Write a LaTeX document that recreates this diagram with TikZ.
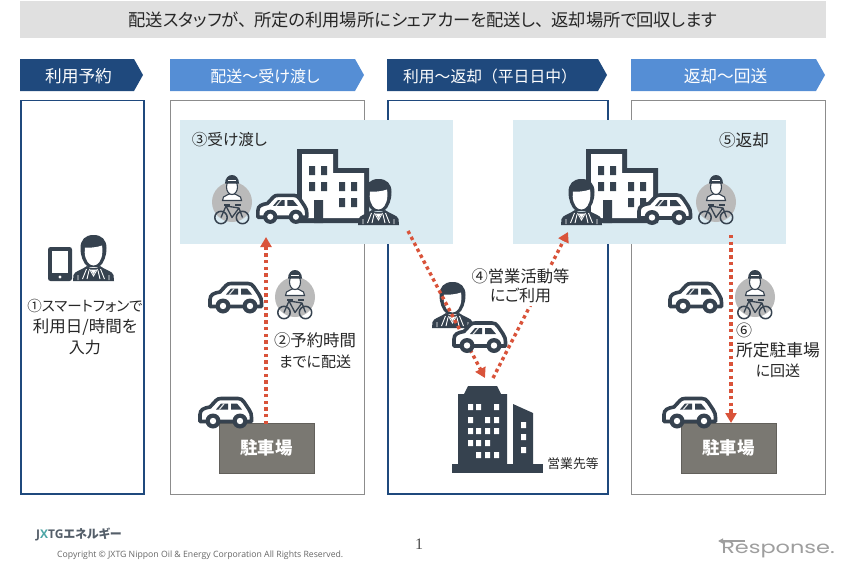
\documentclass[tikz,border=0pt]{standalone}
\usepackage{fontspec}
\setmainfont{Noto Sans CJK JP}[RawFeature=+palt]
\newfontfamily\fullf{Noto Sans CJK JP}
\newfontfamily\latinf{Open Sans}
\newfontfamily\pagef{Liberation Serif}
\newfontfamily\logof{Poppins}
\usetikzlibrary{arrows.meta,shapes.arrows}
\definecolor{navy}{HTML}{1F497D}
\definecolor{sky}{HTML}{558ED5}
\definecolor{band}{HTML}{DAEBF2}
\definecolor{ink}{HTML}{36424F}
\definecolor{redd}{HTML}{D9533A}
\definecolor{lot}{HTML}{7A7872}
\definecolor{txtc}{HTML}{262626}
\newcommand{\fsz}[1]{\fontsize{#1}{21.5}\selectfont}
\tikzset{
  txt/.style={inner sep=0pt,text=txtc,align=center},
  hdr/.style={inner sep=0pt,text=white},
  navypanel/.style={draw=navy,line width=1.8pt,fill=white},
  graypanel/.style={draw=black!45,line width=.9pt,fill=white},
  flow/.style={draw=redd,line width=3.4pt,dash pattern=on 3.4pt off 3.3pt,-{Triangle[length=10pt,width=11pt,fill=redd]}},
  lotbox/.style={draw=lot!80!black,fill=lot,line width=.8pt,minimum width=95pt,minimum height=50pt,inner sep=0pt,text=white,font=\fontsize{17.4}{20}\selectfont\bfseries},
  carpic/.pic={
    \draw[ink,fill=white,line width=3.6pt,line join=round]
      (2,25) -- (2,18) .. controls (2,13) and (6,11.5) .. (12,10.5)
      -- (18,4) .. controls (19.5,2.4) and (21,2) .. (23,2) -- (40,2)
      .. controls (43,2) and (44,3) .. (46,5.5) -- (51,13)
      .. controls (53,16) and (53.5,18) .. (53.5,21) -- (53.5,25) -- cycle;
    \fill[ink] (18,13) -- (23,7) -- (30,7) -- (30,13) -- cycle;
    \fill[ink] (33,7) -- (39,7) -- (44,13) -- (33,13) -- cycle;
    \fill[white!85!ink] (20.5,13) -- (25.5,7) -- (27,7) -- (22,13) -- cycle;
    \fill[ink] (15,24.5) circle (7.5) (42,24.5) circle (7.5);
    \fill[white] (15,24.5) circle (3.2) (42,24.5) circle (3.2);
  },
  person/.pic={
    \fill[ink] (20.5,0) .. controls (29,0) and (33.5,5) .. (33.5,13)
      .. controls (33.5,21) and (31,28) .. (26,32) -- (15,32)
      .. controls (10,28) and (7.5,21) .. (7.5,13) .. controls (7.5,5) and (12,0) .. (20.5,0) -- cycle;
    \fill[white] (12,12.5) .. controls (16,13) and (24,12.5) .. (29,10.5)
      .. controls (29.5,13) and (29.5,15) .. (29.3,17.5)
      .. controls (29,25) and (25,30.5) .. (20.5,30.5)
      .. controls (16,30.5) and (12,25) .. (11.7,17.5) -- cycle;
    \fill[ink] (0,46) -- (0.5,40) .. controls (1.5,36) and (9,35) .. (14,31)
      .. controls (17,34) and (24,34) .. (27,31)
      .. controls (32,35) and (39.5,36) .. (40.5,40) -- (41,46) -- cycle;
    \draw[white,line width=.9pt] (13.5,34) -- (9.5,44) (27.5,34) -- (31.5,44)
      (16,35.5) -- (14,44) (25,35.5) -- (27,44) (16.5,34) -- (20.5,41) -- (24.5,34)
      (5,40) -- (5,45) (36,40) -- (36,45);
    \fill[white] (17.5,34.5) -- (23.5,34.5) -- (20.5,39) -- cycle;
  },
  cyclist/.pic={
    \fill[black!27] (0,0) circle (20);
    \draw[ink,line width=1.5pt] (-11,15.5) circle (6.2) (10.5,15.5) circle (6.2);
    \draw[ink,line width=1.3pt,line join=round] (-11,15.5) -- (-6,4) -- (7,6) -- (10.5,15.5) (-6,4) -- (0,15.5) -- (7,6);
    \draw[ink,line width=1.6pt] (-8,3) -- (-2,3) (3,3) -- (9,3);
    \fill[white,draw=ink,line width=1.1pt] (-9.5,-1.5) -- (-8.5,-5) -- (-3,-8) -- (3,-8) -- (8.5,-5) -- (9.5,-1.5) -- cycle;
    \fill[white,draw=ink,line width=1.1pt] (0,-15) ellipse (5.5 and 7.5);
    \fill[ink] (-7,-18.5) .. controls (-7,-24) and (-3.5,-27) .. (0,-27) .. controls (3.5,-27) and (7,-24) .. (7,-18.5) -- cycle;
    \fill[white] (-4,-22.5) rectangle (4,-21);
  },
  bldg/.pic={
    \fill[ink] (0,0) -- (41,0) -- (41,19) -- (72,19) -- (72,74) -- (0,74) -- cycle;
    \fill[white] (5,5) -- (36,5) -- (36,24) -- (67,24) -- (67,69) -- (5,69) -- cycle;
    \fill[ink] (12,17) rectangle +(6,9) (24,17) rectangle +(6,9)
      (12,33) rectangle +(6,9) (24,33) rectangle +(6,9)
      (42,33) rectangle +(6,9) (54,33) rectangle +(6,9)
      (42,49) rectangle +(6,9) (54,49) rectangle +(6,9)
      (17,51) rectangle (26,74);
  },
  tower/.pic={
    \fill[ink] (452,464) rectangle (543,473);
    \fill[ink] (458,464) -- (458,394) -- (464,394) -- (468,386) -- (497,386) -- (501,394) -- (507,394) -- (507,464) -- cycle;
    \fill[ink] (513,464) -- (513,404) -- (533,413) -- (533,464) -- cycle;
    \fill[white]
      (468,404) rectangle +(5,6) (476,404) rectangle +(5,6) (494,404) rectangle +(5,6)
      (468,417) rectangle +(5,6) (485,417) rectangle +(5,6) (494,417) rectangle +(5,6)
      (468,428) rectangle +(5,6) (476,428) rectangle +(5,6) (485,428) rectangle +(5,6) (494,428) rectangle +(5,6)
      (468,440) rectangle +(5,6) (476,440) rectangle +(5,6) (485,440) rectangle +(5,6)
      (476,452) rectangle +(5,6) (485,452) rectangle +(5,6) (494,452) rectangle +(5,6)
      (521,422) rectangle +(5,6) (521,434) rectangle +(5,6) (521,447) rectangle +(5,6);
  },
  phone/.pic={
    \fill[ink,rounded corners=2.5pt] (0,0) rectangle (24,34);
    \fill[white] (4,4) rectangle (20,26);
    \fill[white] (12,30) circle (1.7);
  }
}
\begin{document}
\begin{tikzpicture}[x=1pt,y=-1pt]
\useasboundingbox (0,0) rectangle (846,570);
% title
\node[fill=black!12,minimum width=806pt,minimum height=37pt,inner sep=0pt,text=txtc,font=\fontsize{17.3}{20}\selectfont] (title) at (423,19.5) {配送スタッフが、\hspace{7pt}所定の利用場所にシェアカーを配送し、\hspace{7pt}返却場所で回収します};
% panels
\draw[navypanel] (21,100.5) rectangle (144,494);
\draw[graypanel] (170,100.5) rectangle (364,494);
\draw[navypanel] (388,100.5) rectangle (608,494);
\draw[graypanel] (631,100.5) rectangle (825,494);
% bands
\fill[band] (180,120) rectangle (453,244);
\fill[band] (513,120) rectangle (786,244);
% headers
\fill[navy] (20,59) -- (134,59) -- (143,75) -- (134,91) -- (20,91) -- cycle;
\fill[sky] (170,59) -- (355,59) -- (364,75) -- (355,91) -- (170,91) -- cycle;
\fill[navy] (387,59) -- (598,59) -- (607,75) -- (598,91) -- (387,91) -- cycle;
\fill[sky] (631,59) -- (816,59) -- (825,75) -- (816,91) -- (631,91) -- cycle;
\node[hdr,font=\fontsize{16.7}{18}\selectfont] (h1) at (78.5,76) {利用予約};
\node[hdr,font=\fontsize{16}{18}\selectfont] (h2) at (265,76) {配送～受け渡し};
\node[hdr,font=\fullf\fontsize{15.8}{18}\selectfont] (h3) at (490,76) {利用～返却（平日日中）};
\node[hdr,font=\fontsize{16.7}{18}\selectfont] (h4) at (725.5,76) {返却～回送};
% panel 1
\pic at (48,247) {phone};
\pic at (73,235) {person};
\node[txt] (t1) at (85,327) {\fsz{14.5}①スマートフォンで\\[4.5pt]\fsz{16.5}利用日/時間を\\[4pt]\fsz{16}入力};
% scene 3
\node[txt,font=\fsz{15.6}] (t3) at (229.5,140) {③受け渡し};
\pic at (232,202) {cyclist};
\pic at (297,149) {bldg};
\pic[scale=.95] at (256,193.5) {carpic};
\pic at (358,179) {person};
% scene 5
\node[txt,font=\fsz{16.6}] (t5) at (744,140) {⑤返却};
\pic at (716,202) {cyclist};
\pic at (586,149) {bldg};
\pic at (561,179) {person};
\pic at (637,193) {carpic};
% column 2
\pic at (208,281.5) {carpic};
\pic at (295,297) {cyclist};
\node[lotbox] (lot1) at (266.5,448) {駐車場};
\pic at (198,396.5) {carpic};
\node[txt] (t2) at (315,351) {\fsz{16.4}②予約時間\\[6pt]\fsz{15}までに配送};
% column 4
\pic at (668,281.5) {carpic};
\pic at (755,297) {cyclist};
\node[lotbox] (lot2) at (728.5,448) {駐車場};
\pic at (662,396.5) {carpic};
\node[txt,font=\fsz{16}] (t6a) at (744,330) {⑥};
\node[txt] (t6b) at (778,360) {\fontsize{16.8}{20}\selectfont 所定駐車場\\[4pt]\fontsize{15}{20}\selectfont に回送};
% column 3
\pic at (0,0) {tower};
\node[txt,font=\fontsize{12.8}{14}\selectfont] (t7) at (573,464) {営業先等};
\pic at (432,282) {person};
% connectors
\coordinate (a2s) at (266,424);
\coordinate (a2e) at (266,237);
\coordinate (a3s) at (408,231);
\coordinate (a3e) at (485,378);
\coordinate (a4s) at (493,378);
\coordinate (a4e) at (568,232);
\coordinate (a6s) at (731,235);
\coordinate (a6e) at (731,423);
\draw[flow] (a2s) -- (a2e);
\draw[flow] (a3s) -- (a3e);
\draw[flow] (a4s) -- (a4e);
\draw[flow] (a6s) -- (a6e);
\pic at (452,321) {carpic};
\node[txt,fill=white,minimum width=102pt,minimum height=40pt] (t4) at (520.5,286) {\fsz{16.3}④営業活動等\\[3pt]\fsz{16}にご利用};
% footer
\node[inner sep=0pt,anchor=west,text=ink!85,font=\fontsize{12}{14}\selectfont\bfseries] (logo) at (36,534) {{\latinf J\textcolor{teal!70}{X}TG}エネルギー};
\node[inner sep=0pt,anchor=west,text=black!60,font=\latinf\fontsize{8.7}{10}\selectfont] (copy) at (57,555) {Copyright © JXTG Nippon Oil \& Energy Corporation All Rights Reserved.};
\node[inner sep=0pt,text=black!70,font=\pagef\fontsize{16}{18}\selectfont] (pg) at (419,544) {1};
\node[inner sep=0pt,anchor=west,text=black!38,font=\logof\fontsize{17}{20}\selectfont,xscale=1.32] (resp) at (721,550) {Response.};
\coordinate (rs) at (745,541);
\coordinate (re) at (718,541);
\draw[black!38,line width=1.5pt,-{Triangle[length=5pt,width=5pt]}] (rs) -- (re);
\end{tikzpicture}
\end{document}
